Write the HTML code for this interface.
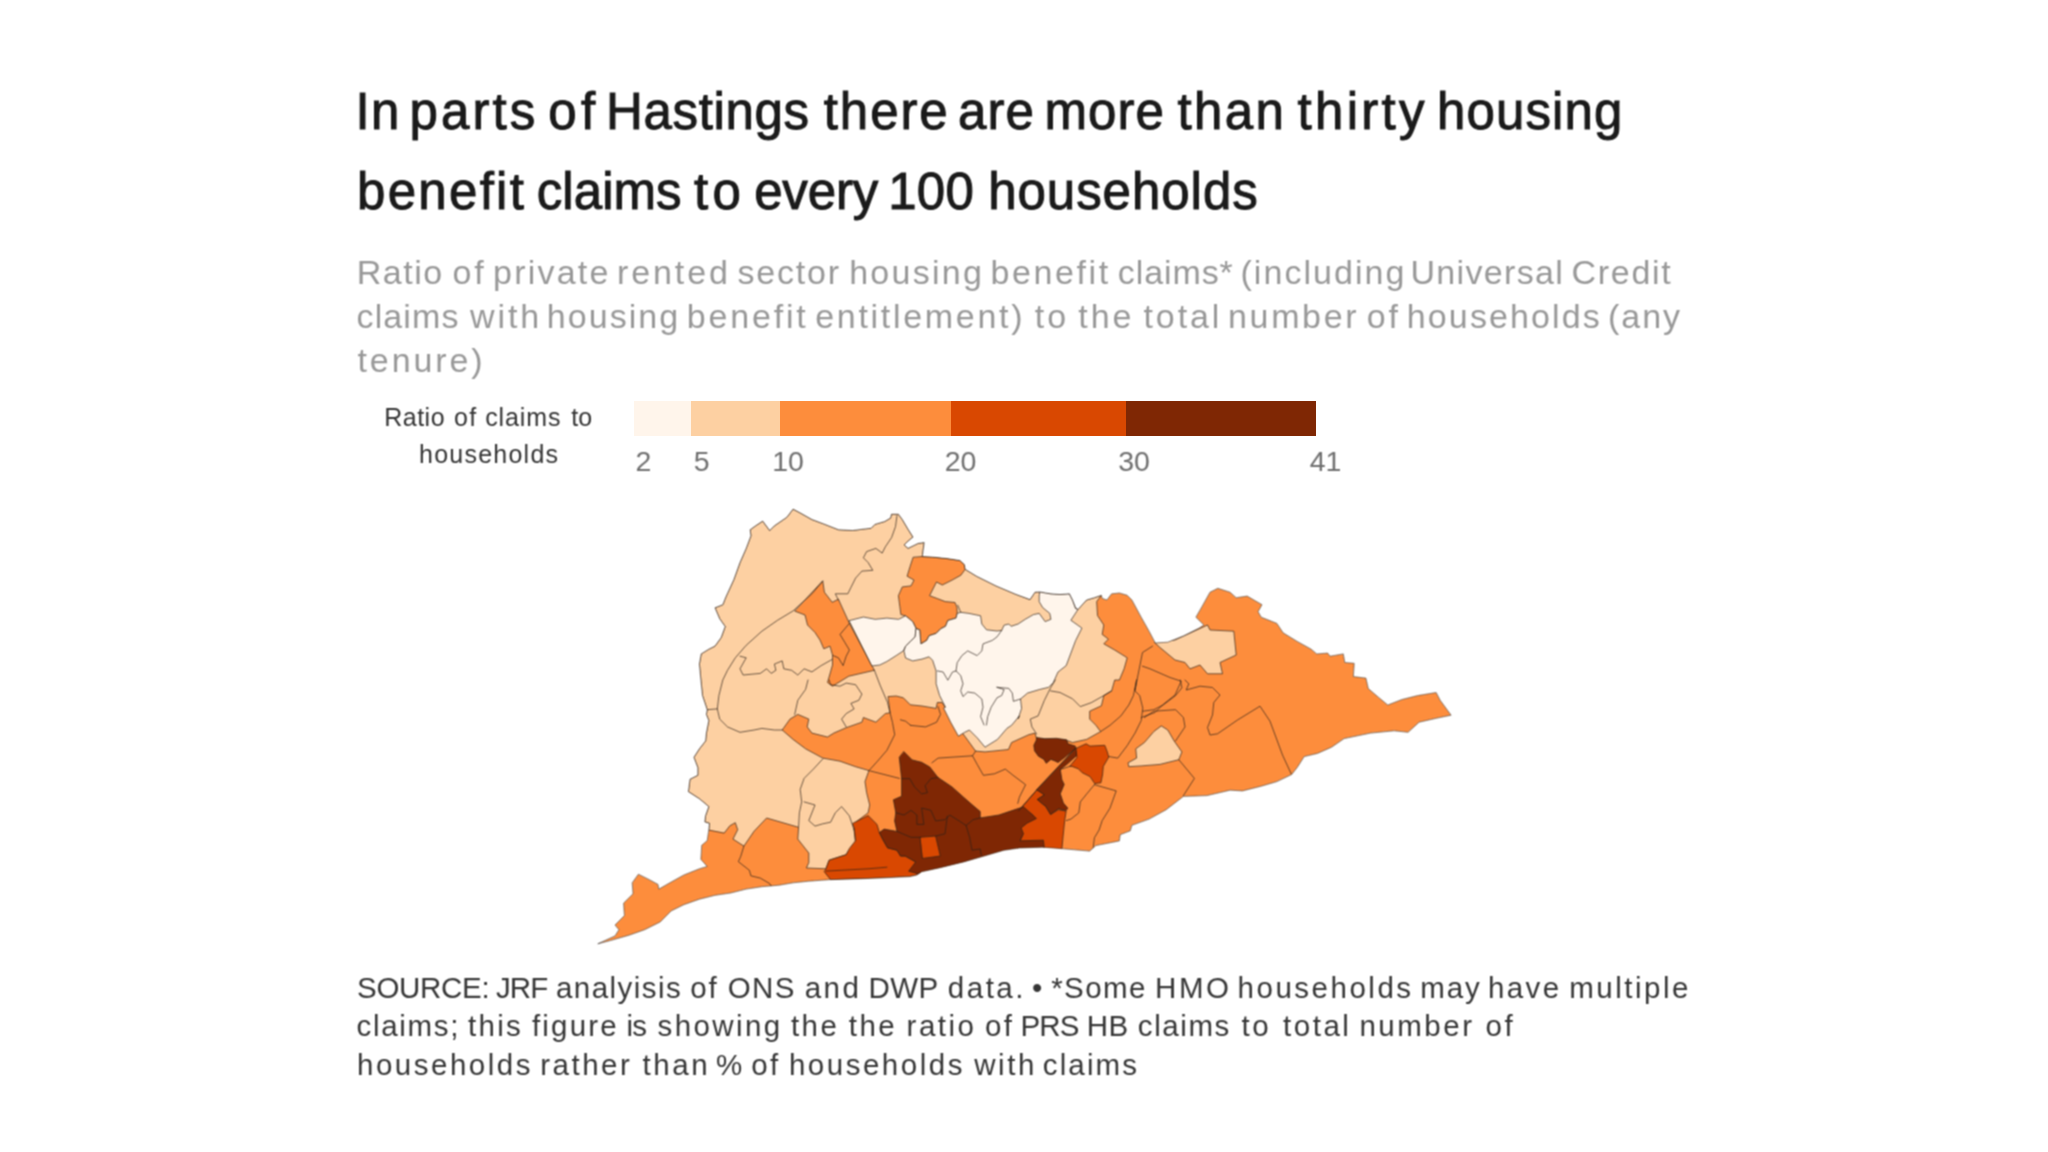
<!DOCTYPE html>
<html lang="en">
<head>
<meta charset="utf-8">
<title>Hastings housing benefit claims</title>
<style>
html,body{margin:0;padding:0;background:#fff;}
body{width:2048px;height:1152px;position:relative;overflow:hidden;font-family:"Liberation Sans",sans-serif;}
.ln{position:absolute;left:0;width:2048px;white-space:nowrap;line-height:1.2;height:1.2em;margin:0;filter:url(#softt);}
.ln span{position:absolute;top:0;white-space:nowrap;}
.t{color:#1a1a1a;-webkit-text-stroke:1px #1a1a1a;}
.s{color:#989898;}
.l{color:#333;}
.f{color:#353535;}
.bar{position:absolute;top:400.5px;height:35.75px;}
.num{position:absolute;top:445.5px;width:60px;text-align:center;font-size:28.5px;line-height:30px;color:#6e6e6e;filter:url(#softt);}
#map{position:absolute;left:0;top:0;}
</style>
</head>
<body>
<div class="title" role="heading" aria-level="1">
<div class="ln t" style="top:80.53px;font-size:51px"><span style="left:355.5px;letter-spacing:1.33px">In</span> <span style="left:409.5px;letter-spacing:3.09px">parts</span> <span style="left:548.3px;letter-spacing:4.33px">of</span> <span style="left:606.0px;letter-spacing:0.65px">Hastings</span> <span style="left:823.8px;letter-spacing:1.90px">there</span> <span style="left:958.0px;letter-spacing:1.08px">are</span> <span style="left:1044.5px;letter-spacing:1.06px">more</span> <span style="left:1177.5px;letter-spacing:2.37px">than</span> <span style="left:1297.5px;letter-spacing:3.30px">thirty</span> <span style="left:1437.0px;letter-spacing:1.12px">housing</span></div>
<div class="ln t" style="top:160.53px;font-size:51px"><span style="left:357.0px;letter-spacing:2.30px">benefit</span> <span style="left:536.8px;letter-spacing:0.05px">claims</span> <span style="left:694.1px;letter-spacing:4.33px">to</span> <span style="left:754.2px;letter-spacing:-0.18px">every</span> <span style="left:888.2px;letter-spacing:0.26px">100</span> <span style="left:988.2px;letter-spacing:0.96px">households</span></div>
</div>
<div class="subtitle">
<div class="ln s" style="top:252.32px;font-size:34px"><span style="left:356.8px;letter-spacing:1.51px">Ratio</span> <span style="left:452.4px;letter-spacing:2.89px">of</span> <span style="left:493.0px;letter-spacing:2.23px">private</span> <span style="left:617.0px;letter-spacing:2.89px">rented</span> <span style="left:737.5px;letter-spacing:1.80px">sector</span> <span style="left:849.2px;letter-spacing:2.26px">housing</span> <span style="left:990.5px;letter-spacing:2.60px">benefit</span> <span style="left:1117.8px;letter-spacing:0.90px">claims*</span> <span style="left:1240.5px;letter-spacing:2.04px">(including</span> <span style="left:1410.5px;letter-spacing:1.32px">Universal</span> <span style="left:1571.5px;letter-spacing:1.70px">Credit</span></div>
<div class="ln s" style="top:295.82px;font-size:34px"><span style="left:356.5px;letter-spacing:1.13px">claims</span> <span style="left:470.0px;letter-spacing:2.89px">with</span> <span style="left:546.8px;letter-spacing:2.05px">housing</span> <span style="left:686.8px;letter-spacing:2.81px">benefit</span> <span style="left:815.2px;letter-spacing:2.70px">entitlement)</span> <span style="left:1034.8px;letter-spacing:2.89px">to</span> <span style="left:1078.3px;letter-spacing:2.89px">the</span> <span style="left:1143.5px;letter-spacing:2.89px">total</span> <span style="left:1228.0px;letter-spacing:2.66px">number</span> <span style="left:1366.7px;letter-spacing:2.89px">of</span> <span style="left:1406.8px;letter-spacing:2.12px">households</span> <span style="left:1608.0px;letter-spacing:1.95px">(any</span></div>
<div class="ln s" style="top:339.62px;font-size:34px"><span style="left:357.5px;letter-spacing:2.89px">tenure)</span></div>
</div>
<div class="legend">
<div class="ln l" style="top:402.24px;font-size:25px"><span style="left:384.2px;letter-spacing:0.51px">Ratio</span> <span style="left:454.0px;letter-spacing:1.35px">of</span> <span style="left:485.2px;letter-spacing:0.88px">claims</span> <span style="left:571.2px;letter-spacing:0.05px">to</span></div>
<div class="ln l" style="top:438.84px;font-size:25px"><span style="left:419.0px;letter-spacing:1.24px">households</span></div>
<div class="bar" style="left:634.25px;width:56.25px;background:#fff5eb"></div>
<div class="bar" style="left:690.5px;width:89px;background:#fdd0a2"></div>
<div class="bar" style="left:779.5px;width:171.75px;background:#fd8d3c"></div>
<div class="bar" style="left:951.25px;width:175px;background:#d94801"></div>
<div class="bar" style="left:1126.25px;width:190px;background:#7f2704"></div>
<div class="num" style="left:613.4px">2</div>
<div class="num" style="left:671.8px">5</div>
<div class="num" style="left:758.0px">10</div>
<div class="num" style="left:930.6px">20</div>
<div class="num" style="left:1104.0px">30</div>
<div class="num" style="left:1295.6px">41</div>
</div>
<svg id="map" width="2048" height="1152" viewBox="0 0 2048 1152">
<defs><filter id="soft" filterUnits="userSpaceOnUse" x="560" y="480" width="940" height="500" color-interpolation-filters="sRGB"><feConvolveMatrix order="3" kernelMatrix="1 2 1 2 4 2 1 2 1" divisor="16" edgeMode="duplicate" preserveAlpha="false"/></filter><filter id="softt" color-interpolation-filters="sRGB"><feConvolveMatrix order="3" kernelMatrix="1 2 1 2 4 2 1 2 1" divisor="16" edgeMode="none" preserveAlpha="false"/></filter></defs>
<g filter="url(#soft)">
<defs><clipPath id="oc"><path d="M597.8,943.8 L615.0,935.9 L618.9,929.7 L615.0,925.0 L624.4,915.6 L623.6,903.1 L633.0,893.8 L632.2,882.8 L638.4,874.2 L649.4,879.7 L658.0,884.4 L658.8,889.1 L671.2,882.0 L683.8,875.0 L699.4,868.8 L707.2,866.4 L700.9,859.4 L701.7,845.3 L707.2,840.6 L708.8,829.7 L709.5,823.4 L704.8,821.9 L705.6,815.6 L708.8,806.6 L699.4,798.8 L688.4,791.7 L690.0,779.2 L697.8,775.3 L697.8,767.5 L693.9,757.3 L699.4,748.8 L705.6,740.9 L706.4,733.1 L708.8,720.6 L706.4,714.4 L707.2,709.7 L702.5,695.6 L700.9,680.0 L699.4,664.1 L701.2,653.9 L708.8,649.2 L715.0,646.1 L721.2,637.5 L725.2,626.6 L719.7,618.8 L715.0,607.8 L722.8,604.7 L725.9,596.9 L733.8,579.7 L740.0,562.5 L746.2,548.4 L750.9,535.9 L750.2,529.7 L755.6,525.8 L762.7,521.1 L769.7,530.5 L774.4,525.8 L786.9,517.2 L793.1,509.1 L800.9,513.3 L811.9,519.5 L824.4,524.2 L838.4,529.7 L852.5,530.5 L865.0,528.9 L871.0,528.3 L874.9,524.4 L884.7,521.5 L890.5,518.1 L891.5,514.2 L898.4,514.2 L902.3,519.5 L908.1,529.3 L913.0,537.1 L907.1,542.0 L904.2,544.9 L908.1,548.3 L913.0,545.9 L917.9,543.5 L924.2,542.5 L922.3,556.6 L932.5,557.1 L947.2,558.6 L959.9,560.5 L964.3,564.5 L965.2,569.3 L976.5,576.2 L996.0,585.9 L1015.5,594.2 L1030.0,599.6 L1035.0,592.2 L1039.7,591.9 L1050.6,593.8 L1060.0,594.5 L1069.4,593.8 L1072.5,600.0 L1075.6,607.8 L1078.0,609.4 L1086.6,600.0 L1094.4,597.7 L1101.4,595.3 L1102.2,598.4 L1106.9,600.0 L1111.6,593.8 L1119.4,593.0 L1127.2,595.3 L1131.9,600.0 L1141.2,617.2 L1149.1,631.2 L1155.3,643.0 L1167.8,642.2 L1183.4,635.9 L1199.1,628.1 L1203.8,625.0 L1195.9,617.2 L1202.2,606.2 L1210.0,592.2 L1217.8,588.3 L1230.0,592.2 L1236.2,597.7 L1247.2,596.1 L1262.0,604.7 L1258.1,611.7 L1261.2,617.2 L1276.9,623.4 L1283.1,632.8 L1297.2,641.4 L1311.2,649.2 L1316.7,653.9 L1327.7,653.1 L1330.0,656.2 L1343.3,653.9 L1344.8,662.5 L1354.2,663.3 L1353.4,676.6 L1365.9,678.1 L1368.3,688.6 L1378.4,697.2 L1387.8,705.0 L1401.9,699.5 L1417.5,695.6 L1436.2,692.5 L1440.2,700.3 L1451.1,715.2 L1436.2,718.3 L1419.1,722.2 L1408.1,732.3 L1394.1,730.8 L1370.6,733.1 L1344.1,738.6 L1331.6,747.2 L1317.5,753.4 L1304.2,756.6 L1297.2,767.5 L1291.7,774.5 L1276.9,781.6 L1261.2,786.2 L1242.5,790.9 L1230.0,790.2 L1206.9,795.6 L1183.4,796.4 L1166.2,809.7 L1149.1,819.1 L1131.9,825.3 L1130.3,830.8 L1120.2,834.7 L1119.4,840.9 L1095.9,845.6 L1089.7,851.1 L1063.1,848.8 L1042.8,847.2 L1019.4,848.0 L1003.8,850.3 L985.0,855.8 L963.8,861.9 L940.3,867.7 L921.6,871.8 L916.9,875.0 L910.0,876.6 L879.1,878.1 L855.6,878.9 L829.1,879.7 L808.8,881.2 L793.1,882.8 L779.1,885.2 L771.2,885.9 L761.9,886.7 L746.2,889.1 L730.6,893.0 L715.0,895.3 L699.4,899.2 L683.8,904.7 L671.2,910.9 L660.3,921.9 L644.7,929.7 L629.1,935.2 L610.3,940.6Z"/></clipPath></defs>
<g clip-path="url(#oc)" stroke="#2a2018" stroke-opacity="0.75" stroke-width="0.9" stroke-linejoin="round" stroke-linecap="round">
<path d="M597.8,943.8 L615.0,935.9 L618.9,929.7 L615.0,925.0 L624.4,915.6 L623.6,903.1 L633.0,893.8 L632.2,882.8 L638.4,874.2 L649.4,879.7 L658.0,884.4 L658.8,889.1 L671.2,882.0 L683.8,875.0 L699.4,868.8 L707.2,866.4 L700.9,859.4 L701.7,845.3 L707.2,840.6 L708.8,829.7 L709.5,823.4 L704.8,821.9 L705.6,815.6 L708.8,806.6 L699.4,798.8 L688.4,791.7 L690.0,779.2 L697.8,775.3 L697.8,767.5 L693.9,757.3 L699.4,748.8 L705.6,740.9 L706.4,733.1 L708.8,720.6 L706.4,714.4 L707.2,709.7 L702.5,695.6 L700.9,680.0 L699.4,664.1 L701.2,653.9 L708.8,649.2 L715.0,646.1 L721.2,637.5 L725.2,626.6 L719.7,618.8 L715.0,607.8 L722.8,604.7 L725.9,596.9 L733.8,579.7 L740.0,562.5 L746.2,548.4 L750.9,535.9 L750.2,529.7 L755.6,525.8 L762.7,521.1 L769.7,530.5 L774.4,525.8 L786.9,517.2 L793.1,509.1 L800.9,513.3 L811.9,519.5 L824.4,524.2 L838.4,529.7 L852.5,530.5 L865.0,528.9 L871.0,528.3 L874.9,524.4 L884.7,521.5 L890.5,518.1 L891.5,514.2 L898.4,514.2 L902.3,519.5 L908.1,529.3 L913.0,537.1 L907.1,542.0 L904.2,544.9 L908.1,548.3 L913.0,545.9 L917.9,543.5 L924.2,542.5 L922.3,556.6 L932.5,557.1 L947.2,558.6 L959.9,560.5 L964.3,564.5 L965.2,569.3 L976.5,576.2 L996.0,585.9 L1015.5,594.2 L1030.0,599.6 L1035.0,592.2 L1039.7,591.9 L1050.6,593.8 L1060.0,594.5 L1069.4,593.8 L1072.5,600.0 L1075.6,607.8 L1078.0,609.4 L1086.6,600.0 L1094.4,597.7 L1101.4,595.3 L1102.2,598.4 L1106.9,600.0 L1111.6,593.8 L1119.4,593.0 L1127.2,595.3 L1131.9,600.0 L1141.2,617.2 L1149.1,631.2 L1155.3,643.0 L1167.8,642.2 L1183.4,635.9 L1199.1,628.1 L1203.8,625.0 L1195.9,617.2 L1202.2,606.2 L1210.0,592.2 L1217.8,588.3 L1230.0,592.2 L1236.2,597.7 L1247.2,596.1 L1262.0,604.7 L1258.1,611.7 L1261.2,617.2 L1276.9,623.4 L1283.1,632.8 L1297.2,641.4 L1311.2,649.2 L1316.7,653.9 L1327.7,653.1 L1330.0,656.2 L1343.3,653.9 L1344.8,662.5 L1354.2,663.3 L1353.4,676.6 L1365.9,678.1 L1368.3,688.6 L1378.4,697.2 L1387.8,705.0 L1401.9,699.5 L1417.5,695.6 L1436.2,692.5 L1440.2,700.3 L1451.1,715.2 L1436.2,718.3 L1419.1,722.2 L1408.1,732.3 L1394.1,730.8 L1370.6,733.1 L1344.1,738.6 L1331.6,747.2 L1317.5,753.4 L1304.2,756.6 L1297.2,767.5 L1291.7,774.5 L1276.9,781.6 L1261.2,786.2 L1242.5,790.9 L1230.0,790.2 L1206.9,795.6 L1183.4,796.4 L1166.2,809.7 L1149.1,819.1 L1131.9,825.3 L1130.3,830.8 L1120.2,834.7 L1119.4,840.9 L1095.9,845.6 L1089.7,851.1 L1063.1,848.8 L1042.8,847.2 L1019.4,848.0 L1003.8,850.3 L985.0,855.8 L963.8,861.9 L940.3,867.7 L921.6,871.8 L916.9,875.0 L910.0,876.6 L879.1,878.1 L855.6,878.9 L829.1,879.7 L808.8,881.2 L793.1,882.8 L779.1,885.2 L771.2,885.9 L761.9,886.7 L746.2,889.1 L730.6,893.0 L715.0,895.3 L699.4,899.2 L683.8,904.7 L671.2,910.9 L660.3,921.9 L644.7,929.7 L629.1,935.2 L610.3,940.6Z" fill="#fd8d3c" stroke="none"/>
<path d="M708.8,829.7 L709.5,823.4 L704.8,821.9 L705.6,815.6 L708.8,806.6 L699.4,798.8 L688.4,791.7 L690.0,779.2 L697.8,775.3 L697.8,767.5 L693.9,757.3 L699.4,748.8 L705.6,740.9 L706.4,733.1 L708.8,720.6 L706.4,714.4 L707.2,709.7 L702.5,695.6 L700.9,680.0 L699.4,664.1 L701.2,653.9 L708.8,649.2 L715.0,646.1 L721.2,637.5 L725.2,626.6 L719.7,618.8 L715.0,607.8 L722.8,604.7 L725.9,596.9 L733.8,579.7 L740.0,562.5 L746.2,548.4 L750.9,535.9 L750.2,529.7 L755.6,525.8 L762.7,521.1 L769.7,530.5 L774.4,525.8 L786.9,517.2 L793.1,509.1 L800.9,513.3 L811.9,519.5 L824.4,524.2 L838.4,529.7 L852.5,530.5 L865.0,528.9 L871.0,528.3 L874.9,524.4 L884.7,521.5 L890.5,518.1 L891.5,514.2 L898.4,514.2 L902.3,519.5 L908.1,529.3 L913.0,537.1 L907.1,542.0 L904.2,544.9 L908.1,548.3 L913.0,545.9 L917.9,543.5 L924.2,542.5 L922.3,556.6 L932.5,557.1 L947.2,558.6 L959.9,560.5 L964.3,564.5 L965.2,569.3 L976.5,576.2 L996.0,585.9 L1015.5,594.2 L1030.0,599.6 L1035.0,592.2 L1039.7,591.9 L1050.6,593.8 L1060.0,594.5 L1069.4,593.8 L1072.5,600.0 L1075.6,607.8 L1078.0,609.4 L1086.6,600.0 L1094.4,597.7 L1101.4,595.3 L1096.7,601.6 L1097.5,615.6 L1103.8,625.0 L1102.2,634.4 L1108.4,639.1 L1103.8,643.8 L1114.7,650.0 L1127.2,657.8 L1124.1,668.8 L1119.4,680.0 L1114.7,680.0 L1111.6,690.9 L1103.8,695.6 L1101.4,705.8 L1089.7,711.2 L1089.7,719.1 L1095.9,725.3 L1100.6,731.6 L1086.6,739.4 L1072.5,742.5 L1066.2,740.2 L1050.6,739.4 L1036.6,738.6 L1035.0,733.1 L1028.8,734.7 L1011.6,742.5 L1008.4,749.5 L985.0,751.9 L975.6,751.1 L963.1,733.9 L942.0,702.5 L937.3,702.5 L936.1,708.4 L922.0,706.0 L910.3,704.8 L903.3,697.8 L896.2,696.0 L888.0,696.6 L890.0,712.8 L885.3,713.6 L875.9,722.2 L863.4,717.5 L861.9,722.2 L846.2,727.7 L833.8,733.1 L827.5,737.0 L811.9,733.1 L807.2,726.9 L808.8,719.1 L797.8,714.4 L790.0,719.1 L782.2,730.0 L793.1,739.4 L805.6,748.8 L822.8,758.1 L840.0,761.2 L855.6,766.7 L868.9,770.6 L865.0,781.6 L866.6,792.5 L869.7,805.0 L868.1,812.8 L855.6,822.2 L854.1,830.0 L855.6,844.1 L847.8,851.9 L846.2,854.7 L829.1,860.2 L825.9,868.8 L806.4,868.0 L808.8,862.5 L808.8,853.1 L797.8,839.1 L798.6,827.3 L766.6,818.0 L754.1,831.2 L743.9,846.1 L733.0,839.1 L737.7,829.7 L735.3,822.7 L729.8,825.8 L724.4,832.8Z" fill="#fdd0a2" />
<path d="M1161.6,726.1 L1167.8,730.0 L1174.1,740.9 L1181.9,751.9 L1178.8,759.7 L1160.0,764.4 L1141.2,765.9 L1128.8,766.7 L1128.0,762.8 L1136.6,758.1 L1135.8,748.8 L1144.4,742.5 L1153.8,731.6Z" fill="#fdd0a2" />
<path d="M1155.0,642.5 L1175.0,640.0 L1207.5,625.0 L1210.0,630.0 L1233.8,631.2 L1236.2,655.0 L1220.0,662.5 L1222.5,673.8 L1207.5,673.8 L1200.0,665.0 L1190.0,668.8 L1185.0,662.5 L1175.0,660.0 L1160.0,647.5Z" fill="#fdd0a2" />
<path d="M822.8,581.2 L824.4,592.2 L832.2,602.3 L838.4,599.2 L849.4,623.4 L874.4,670.3 L848.8,676.2 L832.5,686.2 L827.5,682.5 L832.5,665.0 L832.5,655.0 L830.0,646.2 L823.8,648.8 L820.0,640.0 L815.0,632.5 L807.5,625.0 L805.0,615.0 L795.0,611.2Z" fill="#fd8d3c" />
<path d="M922.3,556.6 L932.5,557.1 L947.2,558.6 L959.9,560.5 L964.3,564.5 L965.2,569.3 L960.9,575.2 L952.1,580.1 L942.3,585.0 L936.5,582.0 L933.5,587.9 L929.6,595.7 L937.4,598.6 L945.2,601.6 L955.0,602.5 L957.0,607.4 L957.2,613.4 L956.0,618.1 L947.8,620.5 L945.5,626.3 L940.8,628.7 L936.1,633.4 L929.1,635.7 L926.7,640.4 L920.9,643.9 L919.7,629.8 L916.2,628.7 L912.7,621.6 L905.6,615.8 L900.9,614.6 L899.8,606.4 L898.4,595.7 L902.3,586.9 L911.0,585.9 L914.0,580.1 L907.1,576.2 L910.1,566.4 L913.0,557.6Z" fill="#fd8d3c" />
<path d="M849.4,620.6 L863.4,617.0 L875.2,619.3 L886.9,618.1 L898.6,619.3 L905.6,615.8 L912.7,621.6 L916.2,628.7 L915.0,636.9 L910.3,641.6 L905.6,646.2 L903.3,650.9 L896.2,655.6 L886.9,661.5 L879.8,665.0 L872.2,665.9Z" fill="#fff5eb" />
<path d="M916.2,628.7 L919.7,629.8 L920.9,643.9 L926.7,640.4 L929.1,635.7 L936.1,633.4 L940.8,628.7 L945.5,626.3 L947.8,620.5 L956.0,618.1 L957.2,613.4 L960.7,612.3 L968.9,613.4 L980.6,615.8 L981.8,624.0 L986.5,629.8 L997.0,631.0 L1001.7,630.4 L1004.1,625.2 L1008.8,624.0 L1011.1,626.3 L1018.1,624.0 L1025.2,619.3 L1033.4,614.6 L1039.2,613.4 L1045.1,621.6 L1050.9,619.3 L1049.8,613.4 L1042.7,607.6 L1039.2,601.7 L1039.2,595.9 L1039.7,591.9 L1050.6,593.8 L1060.0,594.5 L1069.4,593.8 L1072.5,600.0 L1075.6,608.6 L1078.0,609.4 L1070.9,620.3 L1081.9,628.1 L1075.6,640.6 L1066.2,665.6 L1058.0,672.0 L1053.3,682.6 L1048.6,687.3 L1039.2,689.6 L1027.5,693.1 L1020.5,699.0 L1021.6,708.4 L1018.1,718.9 L1019.4,715.9 L1011.6,725.3 L1006.9,728.4 L997.5,739.4 L985.0,747.2 L977.2,737.8 L969.4,730.0 L964.7,732.3 L958.4,736.2 L950.6,722.2 L943.6,708.1 L945.5,707.2 L939.6,695.5 L936.1,683.8 L936.1,670.9 L932.6,660.3 L929.1,656.8 L922.0,659.1 L912.7,660.9 L905.6,658.0 L903.9,650.9 L905.6,646.2 L910.3,641.6 L915.0,636.9Z" fill="#fff5eb" />
<path d="M1075.9,748.4 L1086.1,743.8 L1090.0,746.1 L1104.8,745.3 L1107.2,751.6 L1108.8,757.0 L1103.3,766.4 L1102.5,775.0 L1100.9,782.8 L1094.7,783.6 L1090.0,776.6 L1082.2,772.7 L1078.3,768.8 L1072.0,766.4 L1069.7,766.4 L1076.7,757.8Z" fill="#d94801" />
<path d="M1021.2,807.8 L1036.9,789.8 L1044.4,794.8 L1037.3,799.5 L1045.9,806.6 L1050.6,814.4 L1058.4,809.7 L1066.2,811.2 L1064.7,820.6 L1063.1,836.2 L1061.6,851.9 L1043.6,851.9 L1042.8,843.3 L1019.4,842.5 L1022.5,834.7 L1019.4,828.4 L1025.6,822.2 L1035.0,818.3 L1031.9,814.4Z" fill="#d94801" />
<path d="M825.9,868.8 L829.1,860.2 L846.2,854.7 L849.4,848.4 L855.6,840.6 L854.1,828.1 L852.5,823.4 L868.1,815.6 L877.0,824.4 L879.4,832.6 L882.9,839.6 L887.6,847.8 L897.0,850.2 L900.5,856.0 L905.2,856.0 L915.7,861.9 L921.6,871.8 L916.9,875.0 L910.0,876.6 L879.1,878.1 L855.6,878.9 L830.6,879.7 L824.4,871.9Z" fill="#d94801" />
<path d="M1036.9,737.5 L1044.7,738.7 L1056.4,738.3 L1066.6,739.8 L1068.1,743.8 L1075.2,746.1 L1075.9,748.4 L1072.8,750.8 L1064.2,757.8 L1058.0,762.5 L1054.8,760.9 L1050.9,759.4 L1046.2,763.3 L1043.9,759.4 L1038.4,756.2 L1034.5,750.8 L1033.8,745.3 L1036.1,740.6Z" fill="#7f2704" />
<path d="M1075.9,748.4 L1076.7,755.5 L1068.1,763.3 L1060.3,769.5 L1061.9,779.7 L1064.2,784.4 L1060.3,793.8 L1063.4,803.1 L1067.8,808.1 L1066.2,810.5 L1058.4,808.9 L1050.6,814.4 L1045.9,806.6 L1037.3,799.5 L1044.4,794.8 L1036.9,789.8Z" fill="#7f2704" />
<path d="M904.0,751.7 L912.2,759.9 L921.6,762.3 L929.8,767.0 L938.0,777.5 L952.0,786.9 L963.8,797.4 L973.1,805.6 L980.2,811.5 L980.2,817.9 L998.9,815.0 L1016.5,809.1 L1023.5,806.8 L1034.1,816.2 L1036.4,818.5 L1027.0,823.2 L1021.2,827.9 L1023.5,833.8 L1020.0,840.8 L1043.4,840.2 L1044.6,850.2 L1015.3,850.2 L1004.8,854.3 L987.2,859.5 L963.8,866.0 L940.3,871.8 L921.6,874.8 L908.7,871.2 L915.7,861.9 L905.2,856.0 L900.5,856.0 L897.0,850.2 L887.6,847.8 L882.9,839.6 L879.4,832.6 L884.1,829.1 L897.0,831.4 L894.6,820.9 L895.8,812.7 L893.4,799.8 L901.6,796.2 L901.6,778.7 L899.3,757.6Z" fill="#7f2704" />
<path d="M920.4,837.3 L935.6,836.1 L940.3,856.0 L922.7,858.4Z" fill="#d94801" />
<path d="M897.0,515.6 L895.5,526.6 L891.6,537.5 L885.3,546.9 L882.2,553.1 L875.9,548.4 L866.6,551.6 L863.4,557.8 L868.1,562.5 L872.8,570.3 L861.9,571.1 L855.6,578.1 L850.9,587.5 L847.8,593.8 L835.3,593.8 L838.4,600.0" fill="none"/>
<path d="M822.8,581.2 L811.9,593.8 L793.1,610.9 L777.5,620.3 L761.9,631.2 L746.2,645.3 L735.3,657.8 L727.5,670.3 L722.8,680.0 L718.9,695.6 L717.3,708.9 L719.7,719.1 L727.5,726.9 L740.0,732.3 L754.1,730.0 L761.9,728.4 L774.4,730.0 L782.2,730.0" fill="none"/>
<path d="M707.2,709.7 L717.3,708.9" fill="none"/>
<path d="M740.0,656.2 L746.2,657.8 L740.0,668.8 L743.1,675.0 L760.3,673.4 L766.6,668.8 L771.2,673.4 L775.9,670.3 L774.4,664.1 L782.2,660.9 L783.8,668.8 L791.6,670.3 L797.8,675.0 L804.1,668.8 L811.9,671.9 L821.2,665.6 L832.2,659.4" fill="none"/>
<path d="M849.4,623.4 L840.0,634.4 L844.7,642.2 L849.4,650.0 L846.2,656.2 L843.1,665.6 L838.4,657.8 L833.0,655.5" fill="none"/>
<path d="M808.0,680.0 L805.6,689.4 L797.8,700.3 L794.7,714.4" fill="none"/>
<path d="M846.2,726.9 L841.6,719.1 L846.2,713.6 L854.1,708.9 L850.9,703.4 L858.8,700.3 L861.9,694.1 L855.6,684.7 L846.2,683.1 L840.0,686.2 L830.6,684.7 L829.1,680.0" fill="none"/>
<path d="M874.4,670.3 L880.0,685.0 L887.5,702.5 L892.5,722.5 L894.7,734.7 L886.9,750.3 L877.5,761.2 L869.7,769.8" fill="none"/>
<path d="M822.8,758.9 L813.4,769.1 L804.1,778.4 L800.2,789.4 L801.7,801.9 L799.4,812.8 L798.6,826.9" fill="none"/>
<path d="M804.1,801.9 L815.0,805.0 L808.8,820.6 L815.0,826.1 L822.8,823.8 L830.6,822.2 L835.3,812.8 L841.6,806.6 L849.4,815.9 L854.1,830.0" fill="none"/>
<path d="M743.9,846.1 L740.8,856.2 L738.4,861.7 L749.4,870.3 L750.9,875.8 L760.3,878.1 L769.7,883.6 L771.2,885.9" fill="none"/>
<path d="M825.9,871.1 L868.1,868.8 L886.9,867.2" fill="none"/>
<path d="M868.9,770.6 L899.4,778.4" fill="none"/>
<path d="M900.4,719.8 L905.6,721.2 L910.3,725.1 L910.0,725.3 L925.6,726.9 L936.6,722.2 L940.5,714.4 L938.1,706.6" fill="none"/>
<path d="M931.9,762.8 L938.1,758.1 L972.5,755.8 L975.6,751.1" fill="none"/>
<path d="M972.5,755.8 L977.2,764.4 L983.4,775.3 L994.4,773.8 L1005.3,769.1 L1013.1,775.3 L1025.6,784.7 L1019.4,797.2 L1017.8,803.4" fill="none"/>
<path d="M1018.6,810.9 L1021.2,807.8 L1036.9,789.8 L1075.9,748.0" fill="none"/>
<path d="M1060.3,769.5 L1069.7,766.4" fill="none"/>
<path d="M1094.4,784.7 L1086.6,794.1 L1080.3,801.9 L1078.8,812.8 L1070.9,819.1 L1066.2,820.6" fill="none"/>
<path d="M1094.4,784.7 L1116.2,790.9 L1110.0,808.1 L1102.2,820.6 L1099.1,830.0 L1094.4,837.8 L1092.8,851.1" fill="none"/>
<path d="M1100.6,731.6 L1110.0,725.3 L1120.9,715.9 L1128.8,705.0 L1133.4,695.6 L1136.6,680.0" fill="none"/>
<path d="M1109.2,756.6 L1117.8,758.1 L1127.2,745.6 L1135.0,733.1 L1141.2,720.6 L1142.8,708.1 L1139.7,695.6 L1135.0,690.9 L1136.6,680.0" fill="none"/>
<path d="M1142.8,711.2 L1153.8,709.7 L1163.1,705.0 L1175.6,695.6 L1181.9,687.8 L1180.3,680.0" fill="none"/>
<path d="M1144.4,717.5 L1153.8,711.2 L1175.6,709.7 L1183.4,717.5 L1185.0,726.9 L1175.6,740.9" fill="none"/>
<path d="M1178.8,759.7 L1194.4,778.4 L1183.4,795.6" fill="none"/>
<path d="M1142.5,666.2 L1150.0,668.8 L1170.0,677.5 L1181.2,681.2 L1175.0,695.0 L1162.5,705.0 L1155.0,712.5 L1141.2,717.5" fill="none"/>
<path d="M1185.0,680.0 L1188.8,683.8 L1186.2,690.0 L1200.0,686.2 L1212.5,687.5 L1220.0,695.0 L1213.8,702.5 L1212.5,715.0 L1207.5,727.5 L1210.0,735.0 L1217.5,733.8 L1237.5,720.0 L1260.0,706.2 L1270.0,721.2 L1282.5,755.0 L1291.2,773.8" fill="none"/>
<path d="M1152.5,646.2 L1142.5,652.5 L1140.0,665.0 L1135.0,690.0" fill="none"/>
<path d="M956.0,670.9 L957.2,662.7 L961.9,655.6 L967.7,650.9 L977.1,655.6 L981.8,650.9 L983.0,643.9 L992.3,640.4 L997.0,636.9 L1001.7,630.4" fill="none"/>
<path d="M937.3,670.9 L943.1,672.0 L947.8,680.2 L952.5,672.0 L956.0,670.9 L960.7,675.5 L963.0,683.8 L960.7,690.8 L963.0,696.6 L967.7,692.0 L974.8,693.1 L981.8,699.0 L983.0,707.2 L980.6,716.6 L984.1,725.0" fill="none"/>
<path d="M997.0,687.3 L1004.1,689.6 L1001.7,695.5 L997.0,697.8 L991.2,707.2 L987.7,716.6 L986.5,725.0" fill="none"/>
<path d="M997.0,687.3 L1008.8,688.4 L1012.3,693.1 L1013.4,701.3 L1020.5,699.0" fill="none"/>
<path d="M957.8,605.2 L960.7,612.3" fill="none"/>
<path d="M1050.6,690.9 L1060.0,692.5 L1072.5,698.8 L1080.3,706.6 L1091.2,702.7 L1103.8,695.6 L1111.6,690.9" fill="none"/>
<path d="M1055.3,680.0 L1050.6,687.8 L1044.4,700.3 L1038.1,715.9 L1030.3,719.1 L1031.9,726.9 L1036.6,733.9" fill="none"/>
<path d="M901.6,778.7 L909.8,778.7 L914.5,786.9 L921.6,793.9 L927.4,792.7 L925.1,785.7 L930.9,778.7 L938.0,777.5" fill="none"/>
<path d="M895.8,812.7 L904.0,815.0 L911.0,810.3 L916.9,815.0 L916.9,824.4 L923.9,824.4 L921.6,808.0 L930.9,810.3 L935.6,820.9 L945.0,819.7 L949.7,815.0 L959.1,820.9 L966.1,825.5 L973.1,819.7 L980.2,817.9" fill="none"/>
<path d="M897.0,831.4 L911.0,837.3 L920.4,837.3" fill="none"/>
<path d="M935.6,836.1 L945.0,833.8 L947.3,816.2" fill="none"/>
<path d="M966.1,825.5 L969.6,837.3 L972.0,850.2 L980.2,849.0 L981.3,855.4" fill="none"/>
</g>
<path d="M597.8,943.8 L615.0,935.9 L618.9,929.7 L615.0,925.0 L624.4,915.6 L623.6,903.1 L633.0,893.8 L632.2,882.8 L638.4,874.2 L649.4,879.7 L658.0,884.4 L658.8,889.1 L671.2,882.0 L683.8,875.0 L699.4,868.8 L707.2,866.4 L700.9,859.4 L701.7,845.3 L707.2,840.6 L708.8,829.7 L709.5,823.4 L704.8,821.9 L705.6,815.6 L708.8,806.6 L699.4,798.8 L688.4,791.7 L690.0,779.2 L697.8,775.3 L697.8,767.5 L693.9,757.3 L699.4,748.8 L705.6,740.9 L706.4,733.1 L708.8,720.6 L706.4,714.4 L707.2,709.7 L702.5,695.6 L700.9,680.0 L699.4,664.1 L701.2,653.9 L708.8,649.2 L715.0,646.1 L721.2,637.5 L725.2,626.6 L719.7,618.8 L715.0,607.8 L722.8,604.7 L725.9,596.9 L733.8,579.7 L740.0,562.5 L746.2,548.4 L750.9,535.9 L750.2,529.7 L755.6,525.8 L762.7,521.1 L769.7,530.5 L774.4,525.8 L786.9,517.2 L793.1,509.1 L800.9,513.3 L811.9,519.5 L824.4,524.2 L838.4,529.7 L852.5,530.5 L865.0,528.9 L871.0,528.3 L874.9,524.4 L884.7,521.5 L890.5,518.1 L891.5,514.2 L898.4,514.2 L902.3,519.5 L908.1,529.3 L913.0,537.1 L907.1,542.0 L904.2,544.9 L908.1,548.3 L913.0,545.9 L917.9,543.5 L924.2,542.5 L922.3,556.6 L932.5,557.1 L947.2,558.6 L959.9,560.5 L964.3,564.5 L965.2,569.3 L976.5,576.2 L996.0,585.9 L1015.5,594.2 L1030.0,599.6 L1035.0,592.2 L1039.7,591.9 L1050.6,593.8 L1060.0,594.5 L1069.4,593.8 L1072.5,600.0 L1075.6,607.8 L1078.0,609.4 L1086.6,600.0 L1094.4,597.7 L1101.4,595.3 L1102.2,598.4 L1106.9,600.0 L1111.6,593.8 L1119.4,593.0 L1127.2,595.3 L1131.9,600.0 L1141.2,617.2 L1149.1,631.2 L1155.3,643.0 L1167.8,642.2 L1183.4,635.9 L1199.1,628.1 L1203.8,625.0 L1195.9,617.2 L1202.2,606.2 L1210.0,592.2 L1217.8,588.3 L1230.0,592.2 L1236.2,597.7 L1247.2,596.1 L1262.0,604.7 L1258.1,611.7 L1261.2,617.2 L1276.9,623.4 L1283.1,632.8 L1297.2,641.4 L1311.2,649.2 L1316.7,653.9 L1327.7,653.1 L1330.0,656.2 L1343.3,653.9 L1344.8,662.5 L1354.2,663.3 L1353.4,676.6 L1365.9,678.1 L1368.3,688.6 L1378.4,697.2 L1387.8,705.0 L1401.9,699.5 L1417.5,695.6 L1436.2,692.5 L1440.2,700.3 L1451.1,715.2 L1436.2,718.3 L1419.1,722.2 L1408.1,732.3 L1394.1,730.8 L1370.6,733.1 L1344.1,738.6 L1331.6,747.2 L1317.5,753.4 L1304.2,756.6 L1297.2,767.5 L1291.7,774.5 L1276.9,781.6 L1261.2,786.2 L1242.5,790.9 L1230.0,790.2 L1206.9,795.6 L1183.4,796.4 L1166.2,809.7 L1149.1,819.1 L1131.9,825.3 L1130.3,830.8 L1120.2,834.7 L1119.4,840.9 L1095.9,845.6 L1089.7,851.1 L1063.1,848.8 L1042.8,847.2 L1019.4,848.0 L1003.8,850.3 L985.0,855.8 L963.8,861.9 L940.3,867.7 L921.6,871.8 L916.9,875.0 L910.0,876.6 L879.1,878.1 L855.6,878.9 L829.1,879.7 L808.8,881.2 L793.1,882.8 L779.1,885.2 L771.2,885.9 L761.9,886.7 L746.2,889.1 L730.6,893.0 L715.0,895.3 L699.4,899.2 L683.8,904.7 L671.2,910.9 L660.3,921.9 L644.7,929.7 L629.1,935.2 L610.3,940.6Z" fill="none" stroke="#2a2018" stroke-opacity="0.6" stroke-width="0.9" stroke-linejoin="round"/>
</g></svg>
<div class="footer">
<div class="ln f" style="top:969.58px;font-size:29.5px"><span style="left:357.0px;letter-spacing:-0.29px">SOURCE:</span> <span style="left:496.0px;letter-spacing:-0.89px">JRF</span> <span style="left:556.0px;letter-spacing:1.45px">analyisis</span> <span style="left:690.2px;letter-spacing:1.84px">of</span> <span style="left:727.8px;letter-spacing:1.38px">ONS</span> <span style="left:804.7px;letter-spacing:2.51px">and</span> <span style="left:868.5px;letter-spacing:0.43px">DWP</span> <span style="left:947.8px;letter-spacing:2.51px">data.</span> <span style="left:1032.0px">•</span> <span style="left:1051.2px;letter-spacing:1.40px">*Some</span> <span style="left:1155.1px;letter-spacing:2.51px">HMO</span> <span style="left:1237.6px;letter-spacing:2.51px">households</span> <span style="left:1420.2px;letter-spacing:1.88px">may</span> <span style="left:1488.0px;letter-spacing:2.40px">have</span> <span style="left:1569.2px;letter-spacing:2.51px">multiple</span></div>
<div class="ln f" style="top:1008.33px;font-size:29.5px"><span style="left:356.5px;letter-spacing:1.69px">claims;</span> <span style="left:468.0px;letter-spacing:2.28px">this</span> <span style="left:532.0px;letter-spacing:2.17px">figure</span> <span style="left:626.5px;letter-spacing:-0.80px">is</span> <span style="left:657.5px;letter-spacing:2.40px">showing</span> <span style="left:790.9px;letter-spacing:2.51px">the</span> <span style="left:848.7px;letter-spacing:2.51px">the</span> <span style="left:906.6px;letter-spacing:2.51px">ratio</span> <span style="left:984.9px;letter-spacing:2.51px">of</span> <span style="left:1020.5px;letter-spacing:-0.89px">PRS</span> <span style="left:1086.8px;letter-spacing:0.45px">HB</span> <span style="left:1137.8px;letter-spacing:1.58px">claims</span> <span style="left:1241.6px;letter-spacing:2.51px">to</span> <span style="left:1283.1px;letter-spacing:2.51px">total</span> <span style="left:1359.4px;letter-spacing:2.51px">number</span> <span style="left:1485.5px;letter-spacing:2.51px">of</span></div>
<div class="ln f" style="top:1047.08px;font-size:29.5px"><span style="left:357.0px;letter-spacing:2.51px">households</span> <span style="left:540.2px;letter-spacing:2.51px">rather</span> <span style="left:642.6px;letter-spacing:2.51px">than</span> <span style="left:715.9px">%</span> <span style="left:751.2px;letter-spacing:2.51px">of</span> <span style="left:788.9px;letter-spacing:2.51px">households</span> <span style="left:974.3px;letter-spacing:2.51px">with</span> <span style="left:1042.8px;letter-spacing:2.13px">claims</span></div>
</div>
</body>
</html>
